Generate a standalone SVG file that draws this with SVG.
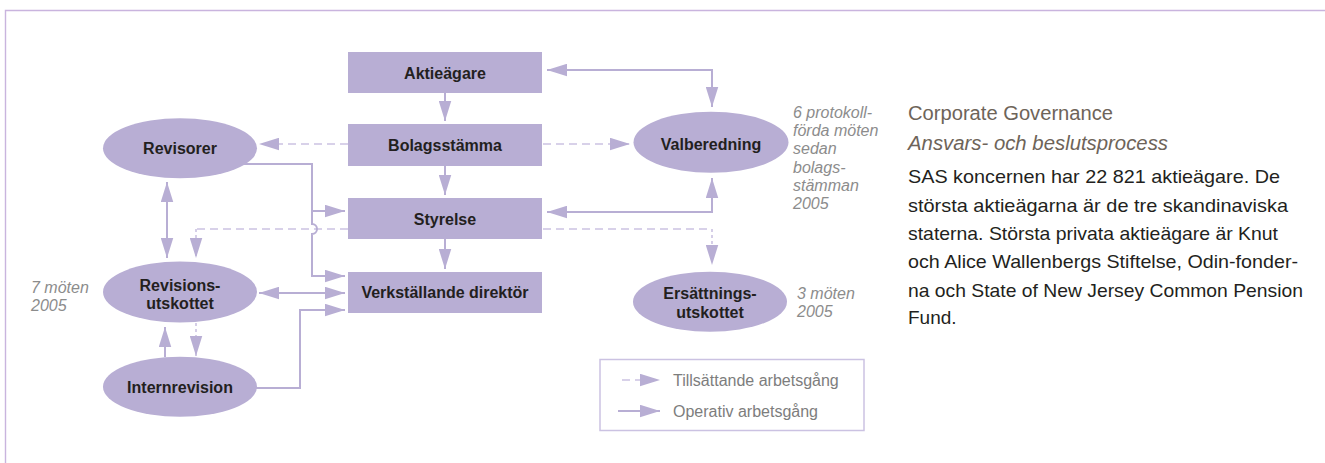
<svg xmlns="http://www.w3.org/2000/svg" width="1325" height="463" viewBox="0 0 1325 463">
<style>
.box{fill:#b8aed4}
.lbl{font-family:"Liberation Sans",Arial,sans-serif;font-size:16px;font-weight:bold;fill:#231f20;text-anchor:middle}
.note{font-family:"Liberation Sans",Arial,sans-serif;font-size:16px;font-style:italic;fill:#8c8c8c}
.leg{font-family:"Liberation Sans",Arial,sans-serif;font-size:16px;fill:#7d7d7d}
.hd{font-family:"Liberation Sans",Arial,sans-serif;font-size:20px;fill:#6e6459}
.bd{font-family:"Liberation Sans",Arial,sans-serif;font-size:19px;fill:#231f20}
.op{fill:none;stroke:#b8aed4;stroke-width:2}
.ds{fill:none;stroke:#cbc2e2;stroke-width:1.6;stroke-dasharray:8 5}
.dt{fill:none;stroke:#cbc2e2;stroke-width:1.6;stroke-dasharray:3 3}
.frame{fill:none;stroke:#c9b4de;stroke-width:1.4}
</style>
<defs>
<marker id="ah" markerUnits="userSpaceOnUse" markerWidth="20" markerHeight="13" refX="20" refY="6.25" orient="auto-start-reverse" viewBox="0 0 20 12.5">
<path d="M0,0 L20,6.25 L0,12.5 Z" fill="#b8aed4"/>
</marker>
</defs>
<path class="frame" d="M5.5,463 V10.5 H1325"/>
<g id="connectors">
<path class="op" d="M445,93 V121" marker-end="url(#ah)"/>
<path class="op" d="M445,166 V195" marker-end="url(#ah)"/>
<path class="op" d="M445,239 V269" marker-end="url(#ah)"/>
<path class="op" d="M547,70 H712 V107" marker-start="url(#ah)" marker-end="url(#ah)"/>
<path class="op" d="M547,212 H712 V178" marker-start="url(#ah)" marker-end="url(#ah)"/>
<path class="ds" d="M543,144 H630" marker-end="url(#ah)"/>
<path class="ds" d="M348,144 H259" marker-end="url(#ah)"/>
<path class="ds" d="M348,229 H196"/>
<path class="dt" d="M196,229 V258" marker-end="url(#ah)"/>
<path class="ds" d="M543,229 H712"/>
<path class="dt" d="M712,229 V265" marker-end="url(#ah)"/>
<path class="op" d="M243,164 H312 V224 A5,5 0 0 1 312,234 V276 H345" marker-end="url(#ah)"/>
<path class="op" d="M312,211 H345" marker-end="url(#ah)"/>
<path class="op" d="M259,293 H345" marker-start="url(#ah)" marker-end="url(#ah)"/>
<path class="op" d="M256,388 H300 V310 H345" marker-end="url(#ah)"/>
<path class="op" d="M167,182 V258" marker-start="url(#ah)" marker-end="url(#ah)"/>
<path class="op" d="M165,357 V327" marker-end="url(#ah)"/>
<path class="dt" d="M196,323 V356" marker-end="url(#ah)"/>
</g>
<g id="aktieagare"><rect class="box" x="348" y="52" width="194" height="41"/><text class="lbl" x="445" y="78.5">Aktieägare</text></g>
<g id="bolagsstamma"><rect class="box" x="348" y="124" width="194" height="42"/><text class="lbl" x="445" y="150.5">Bolagsstämma</text></g>
<g id="styrelse"><rect class="box" x="348" y="198" width="194" height="41"/><text class="lbl" x="445" y="224.5">Styrelse</text></g>
<g id="vd"><rect class="box" x="348" y="272" width="194" height="41"/><text class="lbl" x="445" y="298">Verkställande direktör</text></g>
<g id="revisorer"><ellipse class="box" cx="180" cy="148.3" rx="77" ry="30"/><text class="lbl" x="180" y="153.5">Revisorer</text></g>
<g id="revisionsutskottet"><ellipse class="box" cx="180" cy="292" rx="77" ry="30.5"/><text class="lbl" x="180" y="290.5">Revisions-</text><text class="lbl" x="180" y="309">utskottet</text></g>
<g id="internrevision"><ellipse class="box" cx="180" cy="386.7" rx="77" ry="30"/><text class="lbl" x="180" y="392.5">Internrevision</text></g>
<g id="valberedning"><ellipse class="box" cx="711" cy="142.2" rx="77.5" ry="30.5"/><text class="lbl" x="711" y="149.5">Valberedning</text></g>
<g id="ersattningsutskottet"><ellipse class="box" cx="710" cy="301.7" rx="77" ry="30"/><text class="lbl" x="710" y="299">Ersättnings-</text><text class="lbl" x="710" y="317.5">utskottet</text></g>
<g id="notes">
<text class="note" x="793" y="118">6 protokoll-</text>
<text class="note" x="793" y="136">förda möten</text>
<text class="note" x="793" y="154">sedan</text>
<text class="note" x="793" y="172.5">bolags-</text>
<text class="note" x="793" y="190.5">stämman</text>
<text class="note" x="793" y="208.5">2005</text>
<text class="note" x="31" y="293">7 möten</text>
<text class="note" x="31" y="311">2005</text>
<text class="note" x="797" y="298.5">3 möten</text>
<text class="note" x="797" y="317">2005</text>
</g>
<g id="legend">
<rect x="600" y="359.5" width="264" height="71" fill="none" stroke="#cbc2e2" stroke-width="1.5"/>
<path class="ds" d="M622,380 H660" marker-end="url(#ah)"/>
<path class="op" d="M618,411 H660" marker-end="url(#ah)"/>
<text class="leg" x="673" y="385.5">Tillsättande arbetsgång</text>
<text class="leg" x="673" y="417">Operativ arbetsgång</text>
</g>
<g id="text">
<text class="hd" x="908" y="120" textLength="205" lengthAdjust="spacingAndGlyphs">Corporate Governance</text>
<text class="hd" x="908" y="150" font-style="italic" textLength="260" lengthAdjust="spacingAndGlyphs">Ansvars- och beslutsprocess</text>
<text class="bd" x="908" y="183" textLength="372" lengthAdjust="spacingAndGlyphs">SAS koncernen har 22 821 aktieägare. De</text>
<text class="bd" x="908" y="211.5" textLength="380" lengthAdjust="spacingAndGlyphs">största aktieägarna är de tre skandinaviska</text>
<text class="bd" x="908" y="240" textLength="370" lengthAdjust="spacingAndGlyphs">staterna. Största privata aktieägare är Knut</text>
<text class="bd" x="908" y="268" textLength="390" lengthAdjust="spacingAndGlyphs">och Alice Wallenbergs Stiftelse, Odin-fonder-</text>
<text class="bd" x="908" y="296.5" textLength="395" lengthAdjust="spacingAndGlyphs">na och State of New Jersey Common Pension</text>
<text class="bd" x="908" y="324">Fund.</text>
</g>
</svg>
